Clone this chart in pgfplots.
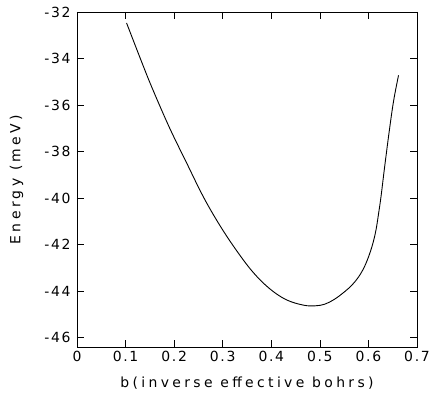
\documentclass[border=0pt]{standalone}
\usepackage{pgfplots}
\pgfplotsset{compat=1.18}
\usetikzlibrary{calc}
\usepackage{fontspec}
\setmainfont{DejaVu Sans}
\newfontfamily\labfont{DejaVu Sans}[LetterSpace=24]
\newfontfamily\tickfont{DejaVu Sans}[LetterSpace=12]
\begin{document}
\begin{tikzpicture}
\begin{axis}[
  name=ax,
  scale only axis,
  width=340bp, height=335bp,
  xmin=0, xmax=0.7, ymin=-46.4, ymax=-32,
  xtick={0,0.1,0.2,0.3,0.4,0.5,0.6,0.7},
  xticklabels={0,0.1,0.2,0.3,0.4,0.5,0.6,0.7},
  ytick={-46,-44,-42,-40,-38,-36,-34,-32},
  yticklabels={-46,-44,-42,-40,-38,-36,-34,-32},
  minor tick num=0,
  tick align=inside,
  major tick length=7bp,
  tick style={line width=0.6pt, black},
  axis line style={line width=0.9pt},
  ticklabel style={font=\tickfont\fontsize{14}{16}\selectfont},
  xticklabel style={yshift=-1bp},
  yticklabel style={xshift=-3bp},
  xlabel={b(inverse effective bohrs)},
  ylabel={Energy (meV)},
  every axis x label/.style={at={(axis description cs:0.5,-0.108)}, anchor=center, font=\labfont\fontsize{14}{16}\selectfont},
  every axis y label/.style={at={(axis description cs:-0.178,0.5)}, anchor=center, rotate=90, font=\labfont\fontsize{14}{16}\selectfont},
]
\addplot[black, line width=0.9pt, smooth, tension=0.6] coordinates {
(0.102,-32.47)
(0.136,-34.30)
(0.157,-35.38)
(0.191,-37.00)
(0.226,-38.50)
(0.260,-39.94)
(0.294,-41.17)
(0.329,-42.27)
(0.363,-43.20)
(0.397,-43.90)
(0.431,-44.37)
(0.466,-44.60)
(0.490,-44.63)
(0.510,-44.56)
(0.530,-44.35)
(0.550,-44.04)
(0.566,-43.74)
(0.580,-43.38)
(0.592,-42.94)
(0.602,-42.42)
(0.610,-41.88)
(0.616,-41.32)
(0.621,-40.65)
(0.626,-39.92)
(0.633,-38.72)
(0.643,-37.10)
(0.652,-35.80)
(0.662,-34.72)
};
\end{axis}
\pgfresetboundingbox
\path ($(ax.south west)+(-77bp,-50bp)$) rectangle ($(ax.north east)+(12bp,12bp)$);
\end{tikzpicture}
\end{document}
